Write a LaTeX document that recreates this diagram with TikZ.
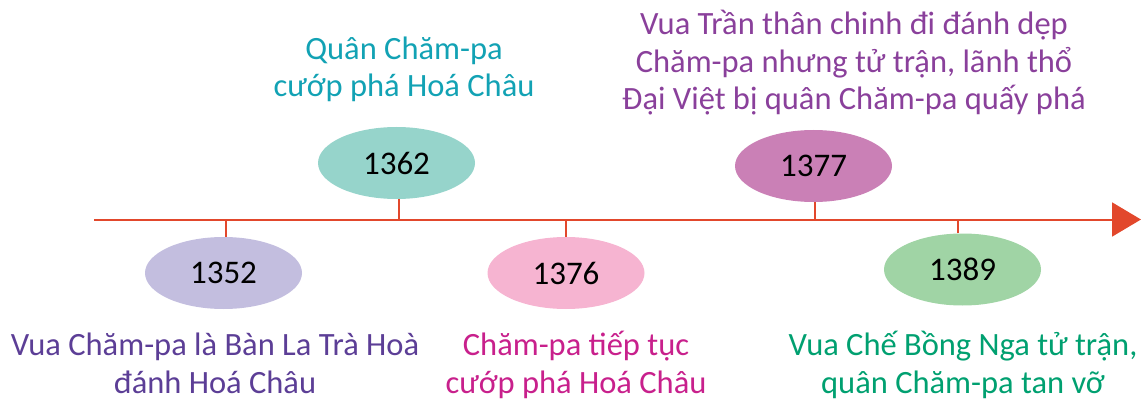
\documentclass[tikz,border=0pt]{standalone}
\usepackage{fontspec}
\setmainfont{Carlito}
\usetikzlibrary{shapes.geometric,arrows.meta}
\definecolor{axisred}{RGB}{226,72,44}
\definecolor{f1352}{RGB}{195,190,223}
\definecolor{f1362}{RGB}{150,212,203}
\definecolor{f1376}{RGB}{246,180,209}
\definecolor{f1377}{RGB}{202,128,182}
\definecolor{f1389}{RGB}{160,212,165}
\definecolor{t1352}{RGB}{92,62,150}
\definecolor{t1362}{RGB}{18,162,180}
\definecolor{t1376}{RGB}{200,32,140}
\definecolor{t1377}{RGB}{138,64,155}
\definecolor{t1389}{RGB}{0,160,112}
\begin{document}
\begin{tikzpicture}[x=1pt,y=-1pt,
  yearbox/.style={ellipse, minimum width=157pt, minimum height=72pt, inner sep=0pt,
    font=\fontsize{33}{33}\selectfont, text=black},
  caption/.style={align=center, font=\fontsize{32.5}{37.5}\selectfont, inner sep=0pt, anchor=base},
  tickline/.style={draw=axisred, line width=2pt}]
\useasboundingbox (0,0) rectangle (1146,401);
\coordinate (axL) at (94,219.5);
\coordinate (axR) at (1141,219.5);
\draw[line width=2pt, axisred, -{Triangle[length=29pt,width=34pt]}] (axL) -- (axR);

\node[yearbox, fill=f1352] (e1352) at (223.5,273) {1352};
\node[yearbox, fill=f1362] (e1362) at (396.5,163) {1362};
\node[yearbox, fill=f1376] (e1376) at (566,273) {1376};
\node[yearbox, fill=f1377] (e1377) at (813.5,166) {1377};
\node[yearbox, fill=f1389] (e1389) at (962.5,269.5) {1389};

\draw[tickline] ([xshift=2pt]e1352.north) -- ([xshift=2pt]e1352.north |- axL);
\draw[tickline] ([xshift=2.5pt]e1362.south) -- ([xshift=2.5pt]e1362.south |- axL);
\draw[tickline] (e1376.north) -- (e1376.north |- axL);
\draw[tickline] ([xshift=1.5pt]e1377.south) -- ([xshift=1.5pt]e1377.south |- axL);
\draw[tickline] ([xshift=-5pt]e1389.north) -- ([xshift=-5pt]e1389.north |- axL);

\node[caption, text=t1362] (c1362) at (404,97) {Quân Chăm-pa\\cướp phá Hoá Châu};
\node[caption, text=t1377] (c1377) at (854,110) {Vua Trần thân chinh đi đánh dẹp\\Chăm-pa nhưng tử trận, lãnh thổ\\Đại Việt bị quân Chăm-pa quấy phá};
\node[caption, text=t1352] (c1352) at (215,393) {Vua Chăm-pa là Bàn La Trà Hoà\\đánh Hoá Châu};
\node[caption, text=t1376] (c1376) at (576,393) {Chăm-pa tiếp tục\\cướp phá Hoá Châu};
\node[caption, text=t1389] (c1389) at (963,393) {Vua Chế Bồng Nga tử trận,\\quân Chăm-pa tan vỡ};
\end{tikzpicture}
\end{document}
